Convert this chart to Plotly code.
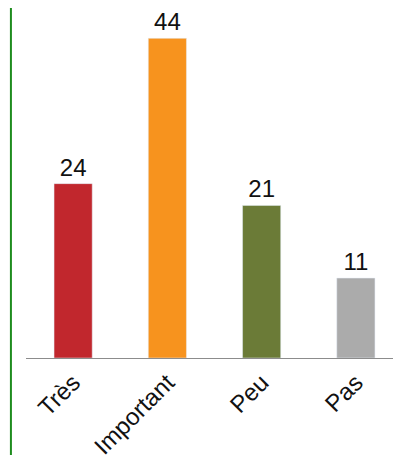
import plotly.graph_objects as go

categories = ["Très", "Important", "Peu", "Pas"]
values = [24, 44, 21, 11]
colors = ["#C1272D", "#F7931E", "#6B7B37", "#ABABAB"]

fig = go.Figure(go.Bar(
    x=categories, y=values,
    marker_color=colors,
    text=values, textposition="outside",
    constraintext="none",
    textfont=dict(size=24, color="#111111"),
    cliponaxis=False,
))

# vertical green rule on the left edge
fig.add_shape(type="line", xref="paper", yref="paper",
              x0=-0.04, x1=-0.04, y0=-0.35, y1=1.05,
              line=dict(color="#1E8C1E", width=2))

fig.update_layout(
    width=401, height=455,
    margin=dict(l=18, r=6, t=2, b=105),
    paper_bgcolor="white", plot_bgcolor="white",
    font=dict(family="Liberation Sans, Arial, sans-serif", color="#111111"),
    bargap=0.595,
    showlegend=False,
)
fig.update_xaxes(showline=True, linecolor="#8C8C8C", linewidth=1,
                 tickangle=-45, tickfont=dict(size=24), ticks="",
                 showgrid=False, automargin=False)
fig.update_yaxes(visible=False, range=[0, 47.9], showgrid=False,
                 zeroline=False, automargin=False)

fig.write_html("out.html")
